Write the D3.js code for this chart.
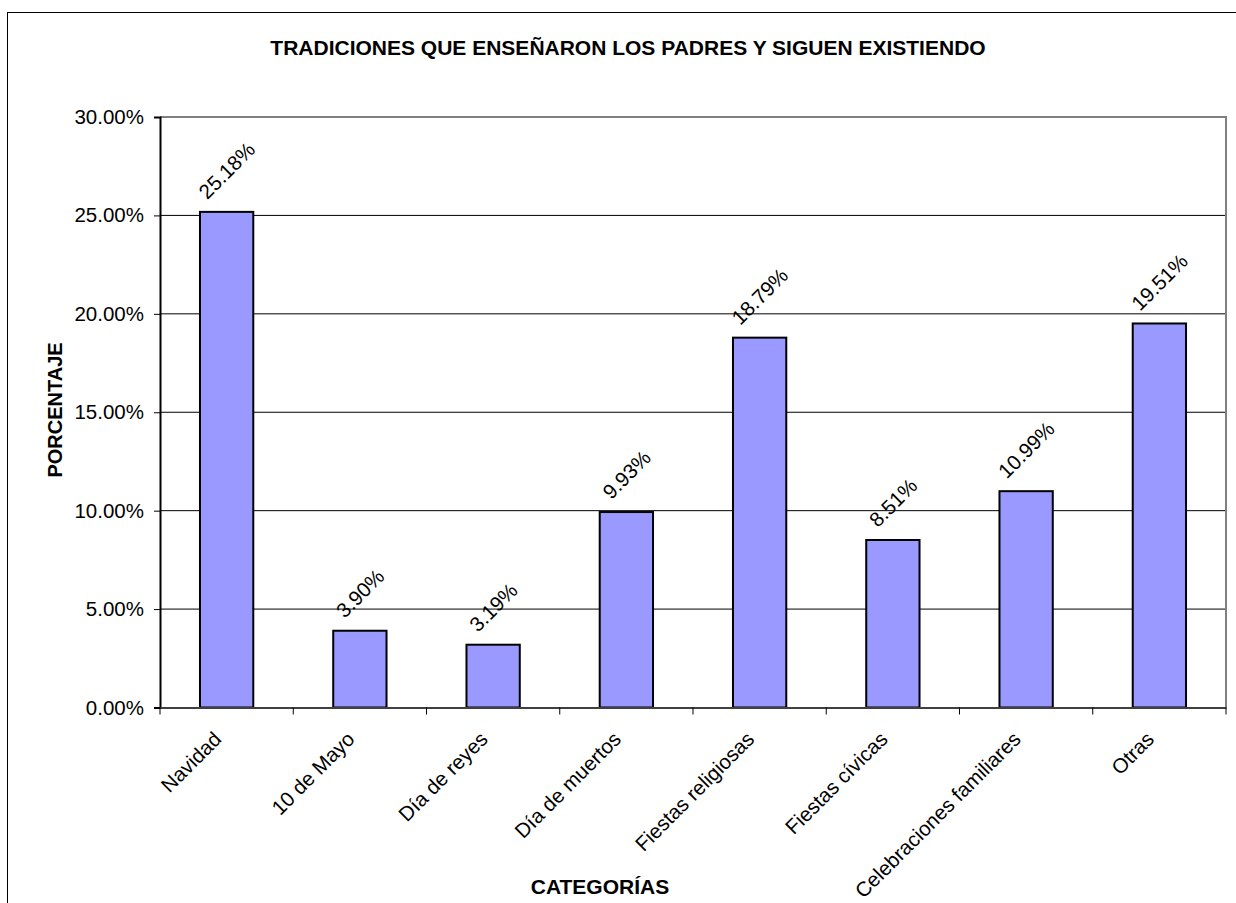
<!DOCTYPE html>
<html><head><meta charset="utf-8">
<script src="https://cdn.jsdelivr.net/npm/d3@7"></script>
<style>body{margin:0;background:#fff}svg{display:block;font-family:"Liberation Sans",Arial,sans-serif}</style>
</head><body><svg id="c" width="1236" height="903"></svg>
<script>
const categories = ["Navidad","10 de Mayo","Día de reyes","Día de muertos","Fiestas religiosas","Fiestas cívicas","Celebraciones familiares","Otras"];
const values = [25.18, 3.90, 3.19, 9.93, 18.79, 8.51, 10.99, 19.51];
const yTicks = [0, 5, 10, 15, 20, 25, 30];
const title = "TRADICIONES QUE ENSEÑARON LOS PADRES Y SIGUEN EXISTIENDO";
const xTitle = "CATEGORÍAS";
const yTitle = "PORCENTAJE";

const svg = d3.select("#c");
const L = 160, R = 1226, T = 117, B = 707.5;
const FS = 20.5;
svg.append("rect").attr("x",7.5).attr("y",12.5).attr("width",1300).attr("height",1000)
  .attr("fill","#fff").attr("stroke","#000").attr("stroke-width",1);

const x = d3.scaleBand().domain(categories).range([L,R]).paddingInner(0.6).paddingOuter(0.3);
const xb = d3.scaleBand().domain(categories).range([L,R]);
const y = d3.scaleLinear().domain([0,30]).range([B,T]);

// gridlines
svg.append("g").selectAll("line").data(yTicks.filter(d=>d>0 && d<30)).join("line")
  .attr("x1",L).attr("x2",R).attr("y1",d=>y(d)).attr("y2",d=>y(d))
  .attr("stroke","#000").attr("stroke-width",1);

// plot border top/right
svg.append("path").attr("d",`M${L},${T}H${R}V${B}`).attr("fill","none").attr("stroke","#808080").attr("stroke-width",2);

// bars
svg.append("g").selectAll("rect").data(values).join("rect")
  .attr("x",(d,i)=>x(categories[i])).attr("width",x.bandwidth())
  .attr("y",d=>y(d)).attr("height",d=>B-y(d))
  .attr("fill","#9999FF").attr("stroke","#000").attr("stroke-width",2);

// y axis
const ya = d3.axisLeft(y).tickValues(yTicks).tickFormat(d=>d.toFixed(2)+"%").tickSize(6).tickPadding(10);
const yg = svg.append("g").attr("transform",`translate(${L},0)`).call(ya);
yg.select(".domain").attr("stroke","#000").attr("stroke-width",2);
yg.selectAll(".tick line").attr("stroke","#000");
yg.selectAll("text").attr("font-size",FS).attr("fill","#000").attr("font-family","Liberation Sans, Arial");

// x axis
const xa = d3.axisBottom(xb).tickValues([]).tickSizeOuter(0);
const xg = svg.append("g").attr("transform",`translate(0,${B})`).call(xa);
xg.select(".domain").attr("stroke","#404040").attr("stroke-width",2);
const tickPos = d3.range(categories.length+1).map(i=> i<categories.length ? xb(categories[i]) : R);
xg.selectAll("line.t").data(tickPos).join("line").attr("class","t")
  .attr("x1",d=>d).attr("x2",d=>d).attr("y1",0).attr("y2",7).attr("stroke","#000").attr("stroke-width",1);

// category labels
svg.append("g").selectAll("text").data(categories).join("text")
  .attr("transform",d=>`translate(${xb(d)+xb.bandwidth()/2-4},${B+33}) rotate(-45)`)
  .attr("text-anchor","end").attr("font-size",FS).attr("fill","#000").text(d=>d);

// value labels
svg.append("g").selectAll("text").data(values).join("text")
  .attr("text-anchor","middle").attr("dominant-baseline","central")
  .attr("font-size",FS).attr("fill","#000")
  .text(d=>d.toFixed(2)+"%")
  .each(function(d,i){
    const len = this.getComputedTextLength();
    const cx = x(categories[i]) + x.bandwidth()/2;
    const cy = y(d) - 17 - len*0.354;
    d3.select(this).attr("transform",`translate(${cx},${cy}) rotate(-45)`);
  });

// titles
svg.append("text").attr("x",628).attr("y",55).attr("text-anchor","middle")
  .attr("font-size",21).attr("font-weight","bold").text(title);
svg.append("text").attr("x",600).attr("y",894).attr("text-anchor","middle")
  .attr("font-size",21).attr("font-weight","bold").text(xTitle);
svg.append("text").attr("transform","translate(62,410) rotate(-90)").attr("text-anchor","middle")
  .attr("font-size",20).attr("font-weight","bold").text(yTitle);
</script></body></html>
